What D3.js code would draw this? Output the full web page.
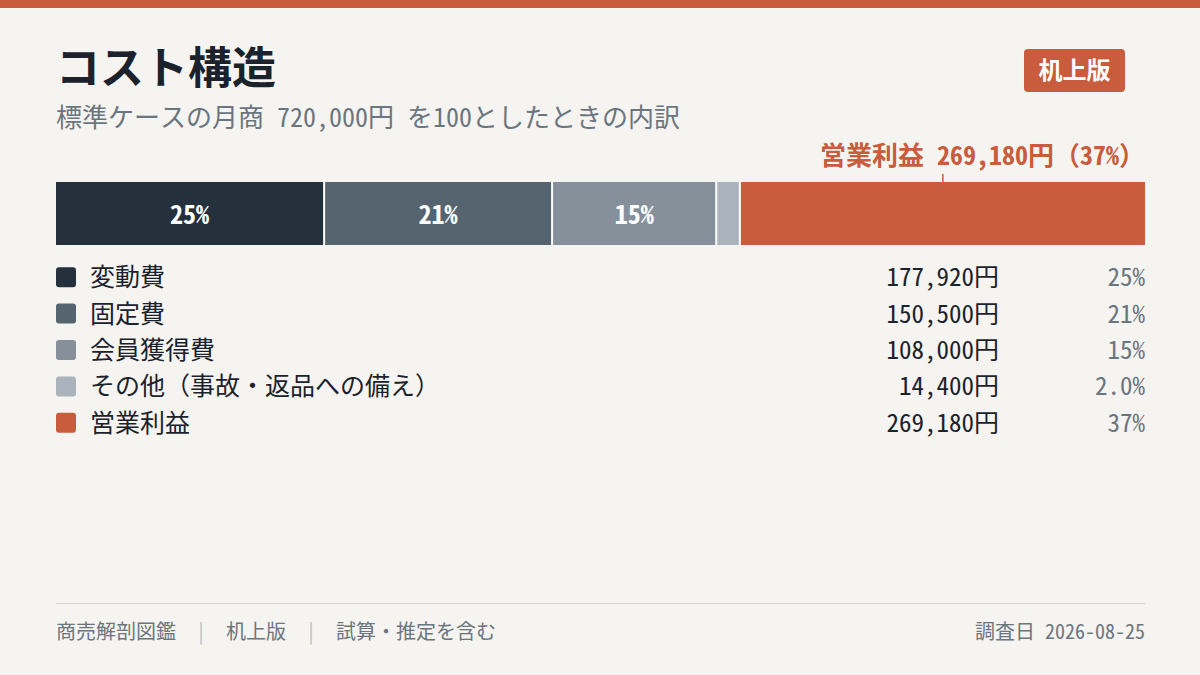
<!DOCTYPE html>
<html>
<head>
<meta charset="utf-8">
<script src="https://cdn.jsdelivr.net/npm/d3@7"></script>
<style>
  html, body { margin: 0; padding: 0; background: #f5f4f0; }
  svg { display: block; font-family: "Noto Sans Mono CJK JP", "Noto Sans CJK JP", monospace; }
</style>
</head>
<body>
<svg id="chart" width="1200" height="675"></svg>
<script>
// data
var categories = ['変動費', '固定費', '会員獲得費', 'その他（事故・返品への備え）', '営業利益']
var amounts = [177920, 150500, 108000, 14400, 269180]
var pctLabels = ['25%', '21%', '15%', '2.0%', '37%']
var barLabels = ['25%', '21%', '15%', '', '']
var colors = ['#25303d', '#566470', '#85909a', '#aab3bb', '#c85c3c']

var title = 'コスト構造'
var subtitle = '標準ケースの月商 720,000円 を100としたときの内訳'
var badgeText = '机上版'
var calloutText = '営業利益 269,180円（37%）'
var footerLeft = ['商売解剖図鑑', '机上版', '試算・推定を含む']
var footerRight = '調査日 2026-08-25'

var W = 1200, H = 675
var margin = {left: 56, right: 55}
var accent = '#c85c3c'
var ink = '#1b222c'
var muted = '#6b7580'
var gap = 2

var svg = d3.select('#chart')

svg.append('rect').attr('width', W).attr('height', H).attr('fill', '#f5f4f0')
svg.append('rect').attr('width', W).attr('height', 8).attr('fill', accent)

// header
svg.append('text')
  .attr('x', margin.left).attr('y', 84)
  .attr('font-size', 44).attr('font-weight', 700).attr('fill', ink)
  .text(title)

svg.append('text')
  .attr('x', margin.left).attr('y', 127)
  .attr('font-size', 26).attr('fill', muted)
  .attr('xml:space', 'preserve').style('white-space', 'pre')
  .text(subtitle)

var badge = svg.append('g').attr('transform', 'translate(1024,49)')
badge.append('rect').attr('width', 101).attr('height', 43).attr('rx', 4).attr('fill', accent)
badge.append('text')
  .attr('x', 50.5).attr('y', 30).attr('text-anchor', 'middle')
  .attr('font-size', 24).attr('font-weight', 700).attr('fill', '#fff')
  .text(badgeText)

// stacked bar
var total = d3.sum(amounts)
var barTop = 182, barH = 63
var x0 = margin.left, x1 = W - margin.right
var n = amounts.length
var x = d3.scaleLinear().domain([0, total]).range([0, (x1 - x0) - gap * (n - 1)])

var stack = []
var acc = 0
amounts.forEach(function (v, i) {
  stack.push({i: i, start: acc, value: v})
  acc += v
})

svg.append('rect')
  .attr('x', x0).attr('y', barTop).attr('width', x1 - x0).attr('height', barH)
  .attr('fill', '#ffffff')

var segs = svg.append('g').selectAll('g').data(stack).join('g')
segs.append('rect')
  .attr('x', function (d) { return x0 + x(d.start) + d.i * gap })
  .attr('y', barTop)
  .attr('width', function (d) { return x(d.value) })
  .attr('height', barH)
  .attr('fill', function (d) { return colors[d.i] })
segs.append('text')
  .attr('x', function (d) { return x0 + x(d.start) + d.i * gap + x(d.value) / 2 })
  .attr('y', barTop + barH / 2 + 10)
  .attr('text-anchor', 'middle')
  .attr('font-size', 26).attr('font-weight', 700).attr('fill', '#fff')
  .text(function (d) { return barLabels[d.i] })

// callout for profit
var last = stack[n - 1]
var cx = x0 + x(last.start) + last.i * gap + x(last.value) / 2
svg.append('line')
  .attr('x1', cx).attr('x2', cx).attr('y1', barTop - 8).attr('y2', barTop)
  .attr('stroke', accent).attr('stroke-width', 1.5)
svg.append('text')
  .attr('x', 1145).attr('y', 165).attr('text-anchor', 'end')
  .attr('font-size', 26).attr('font-weight', 700).attr('fill', accent)
  .attr('xml:space', 'preserve').style('white-space', 'pre')
  .text(calloutText)

// legend table
var y = d3.scaleBand().domain(d3.range(n)).range([259, 441]).paddingInner(0)
var rows = svg.append('g').selectAll('g').data(categories).join('g')
  .attr('transform', function (d, i) { return 'translate(0,' + (y(i) + y.bandwidth() / 2) + ')' })
rows.append('rect')
  .attr('x', margin.left).attr('y', -10).attr('width', 20).attr('height', 20).attr('rx', 3)
  .attr('fill', function (d, i) { return colors[i] })
rows.append('text')
  .attr('x', 90).attr('y', 9)
  .attr('font-size', 25).attr('fill', ink)
  .text(function (d) { return d })
rows.append('text')
  .attr('x', 999).attr('y', 9).attr('text-anchor', 'end')
  .attr('font-size', 25).attr('fill', ink)
  .text(function (d, i) { return d3.format(',')(amounts[i]) + '円' })
rows.append('text')
  .attr('x', 1145).attr('y', 9).attr('text-anchor', 'end')
  .attr('font-size', 25).attr('fill', muted)
  .text(function (d, i) { return pctLabels[i] })

// footer
svg.append('line')
  .attr('x1', margin.left).attr('x2', x1).attr('y1', 603.5).attr('y2', 603.5)
  .attr('stroke', '#d6d4cf').attr('stroke-width', 1)
var foot = svg.append('text')
  .attr('x', margin.left).attr('y', 639)
  .attr('font-size', 20).attr('fill', muted)
  .attr('xml:space', 'preserve').style('white-space', 'pre')
footerLeft.forEach(function (t, i) {
  if (i > 0) foot.append('tspan').attr('fill', '#b9bdc1').text('  |  ')
  foot.append('tspan').text(t)
})
svg.append('text')
  .attr('x', x1).attr('y', 639).attr('text-anchor', 'end')
  .attr('font-size', 20).attr('fill', muted)
  .text(footerRight)
</script>
</body>
</html>
